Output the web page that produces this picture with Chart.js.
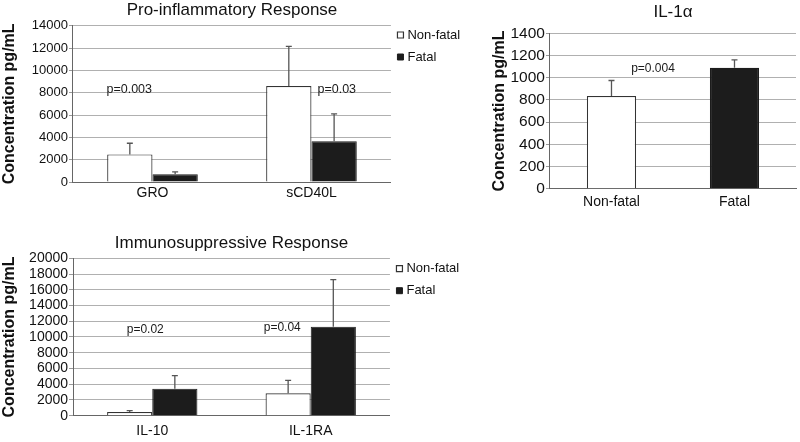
<!DOCTYPE html>
<html><head><meta charset="utf-8">
<script src="https://cdn.jsdelivr.net/npm/chart.js@4.4.1/dist/chart.umd.min.js"></script>
<style>
html,body{margin:0;padding:0;background:#fff;overflow:hidden;width:800px;height:442px;}
.box{position:absolute;}
</style></head><body>
<div class="box" style="left:0;top:0;width:480px;height:215px"><canvas id="c1"></canvas></div>
<div class="box" style="left:480px;top:0;width:320px;height:225px"><canvas id="c2"></canvas></div>
<div class="box" style="left:0;top:225px;width:480px;height:230px"><canvas id="c3"></canvas></div>
<script>
const FONT = "'Liberation Sans', Arial, Helvetica, sans-serif";
const seriesNames = ['Non-fatal', 'Fatal'];

// Pro-inflammatory Response
const proCategories = ['GRO', 'sCD40L'];
const proNonFatal = [2470, 8600];
const proNonFatalSD = [1000, 3550];
const proFatal = [690, 3650];
const proFatalSD = [220, 2450];
const proTicks = [0, 2000, 4000, 6000, 8000, 10000, 12000, 14000];
const proPLabels = ['p=0.003', 'p=0.03'];
const proPLevels = [8300, 8300];

// IL-1alpha
const ilCategories = ['Non-fatal', 'Fatal'];
const ilValues = [835, 1090];
const ilSD = [140, 70];
const ilTicks = [0, 200, 400, 600, 800, 1000, 1200, 1400];
const ilPLabels = ['p=0.004'];
const ilPLevels = [1080];

// Immunosuppressive Response
const immCategories = ['IL-10', 'IL-1RA'];
const immNonFatal = [470, 2850];
const immNonFatalSD = [170, 1650];
const immFatal = [3440, 11300];
const immFatalSD = [1660, 6000];
const immTicks = [0, 2000, 4000, 6000, 8000, 10000, 12000, 14000, 16000, 18000, 20000];
const immPLabels = ['p=0.02', 'p=0.04'];
const immPLevels = [10900, 11200];

const WHITE = '#ffffff', BLACK = '#1c1c1c', EDGE = '#333333';

const errorBarPlugin = {
  id: 'errorBars',
  afterDatasetsDraw(chart) {
    const ctx = chart.ctx, y = chart.scales.y;
    chart.data.datasets.forEach((ds, i) => {
      const errs = ds.errorBars; if (!errs) return;
      chart.getDatasetMeta(i).data.forEach((bar, j) => {
        const top = y.getPixelForValue(ds.data[j] + errs[j]);
        ctx.save();
        ctx.strokeStyle = '#555555'; ctx.lineWidth = 1.3;
        ctx.beginPath();
        ctx.moveTo(bar.x, bar.y); ctx.lineTo(bar.x, top);
        ctx.moveTo(bar.x - 3, top); ctx.lineTo(bar.x + 3, top);
        ctx.stroke(); ctx.restore();
      });
    });
  }
};

function pValuePlugin(labels, levels, cats, dx, align, size) {
  return {
    id: 'pValues',
    afterDatasetsDraw(chart) {
      const ctx = chart.ctx, x = chart.scales.x, y = chart.scales.y;
      ctx.save();
      ctx.font = size + 'px ' + FONT; ctx.fillStyle = '#1a1a1a'; ctx.textBaseline = 'middle';
      labels.forEach((t, k) => {
        ctx.textAlign = align[k];
        ctx.fillText(t, x.getPixelForValue(cats[k]) + dx[k], y.getPixelForValue(levels[k]));
      });
      ctx.restore();
    }
  };
}

function buildOptions(o) {
  return {
    responsive: true, maintainAspectRatio: false, animation: false,
    layout: { padding: o.layout },
    plugins: {
      tooltip: { enabled: false },
      title: { display: true, text: o.title, fullSize: false, color: '#111',
        font: { family: FONT, size: 17, weight: 'normal' }, padding: o.titlePad },
      legend: o.legend ? {
        display: true, position: 'right', align: 'start', fullSize: true,
        title: { display: true, text: '', font: { family: FONT, size: 10 }, padding: { top: o.legendTop, bottom: 0 } },
        labels: { usePointStyle: true, pointStyle: 'rect', boxWidth: 1, boxHeight: 6, padding: 9,
          color: '#111', font: { family: FONT, size: 13 } }
      } : { display: false }
    },
    scales: {
      x: {
        grid: { display: true, drawOnChartArea: false, drawTicks: false },
        border: { display: true, color: '#666', width: 1 },
        ticks: { color: '#111', font: { family: FONT, size: 14 }, padding: o.xPad }
      },
      y: {
        min: 0, max: o.ticks[o.ticks.length - 1],
        afterBuildTicks: s => { s.ticks = o.ticks.map(v => ({ value: v })); },
        ticks: { color: '#111', font: { family: FONT, size: o.yFont }, padding: 1, autoSkip: false, callback: v => String(v) },
        grid: { color: '#b0b0b0', tickLength: 4, tickColor: '#999' },
        border: { display: true, color: '#666', width: 1 },
        title: { display: true, text: 'Concentration pg/mL', color: '#111',
          font: { family: FONT, size: 16, weight: 'bold' }, padding: o.yTitlePad }
      }
    }
  };
}

new Chart(document.getElementById('c1'), {
  type: 'bar',
  data: {
    labels: proCategories,
    datasets: [
      { label: seriesNames[0], data: proNonFatal, errorBars: proNonFatalSD, backgroundColor: WHITE, borderColor: EDGE, borderWidth: 1.2, categoryPercentage: 0.57, barPercentage: 1 },
      { label: seriesNames[1], data: proFatal, errorBars: proFatalSD, backgroundColor: BLACK, borderColor: BLACK, borderWidth: 1, categoryPercentage: 0.57, barPercentage: 1 }
    ]
  },
  options: buildOptions({ title: 'Pro-inflammatory Response', ticks: proTicks, yFont: 13, xPad: 3,
    layout: { left: 0, top: 0, right: 9.8, bottom: 10.2 }, titlePad: { top: 0, bottom: 5.3 },
    yTitlePad: { top: 0.4, bottom: 11.25 }, legend: true, legendTop: 7.5 }),
  plugins: [errorBarPlugin, pValuePlugin(proPLabels, proPLevels, [0, 1], [-46, 6], ['left', 'left'], 12.5)]
});

new Chart(document.getElementById('c2'), {
  type: 'bar',
  data: {
    labels: ilCategories,
    datasets: [
      { label: 'IL-1α', data: ilValues, errorBars: ilSD, backgroundColor: [WHITE, BLACK], borderColor: [EDGE, BLACK], borderWidth: 1.2, categoryPercentage: 0.4, barPercentage: 1 }
    ]
  },
  options: buildOptions({ title: 'IL-1α', ticks: ilTicks, yFont: 15.5, xPad: 5,
    layout: { left: 0, top: 0, right: 4, bottom: 9.5 }, titlePad: { top: 1.8, bottom: 11.1 },
    yTitlePad: { top: 9.7, bottom: 0.6 }, legend: false }),
  plugins: [errorBarPlugin, pValuePlugin(ilPLabels, ilPLevels, [0], [41.5], ['center'], 12)]
});

new Chart(document.getElementById('c3'), {
  type: 'bar',
  data: {
    labels: immCategories,
    datasets: [
      { label: seriesNames[0], data: immNonFatal, errorBars: immNonFatalSD, backgroundColor: WHITE, borderColor: EDGE, borderWidth: 1.2, categoryPercentage: 0.57, barPercentage: 1 },
      { label: seriesNames[1], data: immFatal, errorBars: immFatalSD, backgroundColor: BLACK, borderColor: BLACK, borderWidth: 1, categoryPercentage: 0.57, barPercentage: 1 }
    ]
  },
  options: buildOptions({ title: 'Immunosuppressive Response', ticks: immTicks, yFont: 14, xPad: 7.2,
    layout: { left: 0, top: 0, right: 10.8, bottom: 8.1 }, titlePad: { top: 7.8, bottom: 5.1 },
    yTitlePad: { top: 0.4, bottom: 8.5 }, legend: true, legendTop: 16.2 }),
  plugins: [errorBarPlugin, pValuePlugin(immPLabels, immPLevels, [0, 1], [-7, -47], ['center', 'left'], 12)]
});
</script>
</body></html>
